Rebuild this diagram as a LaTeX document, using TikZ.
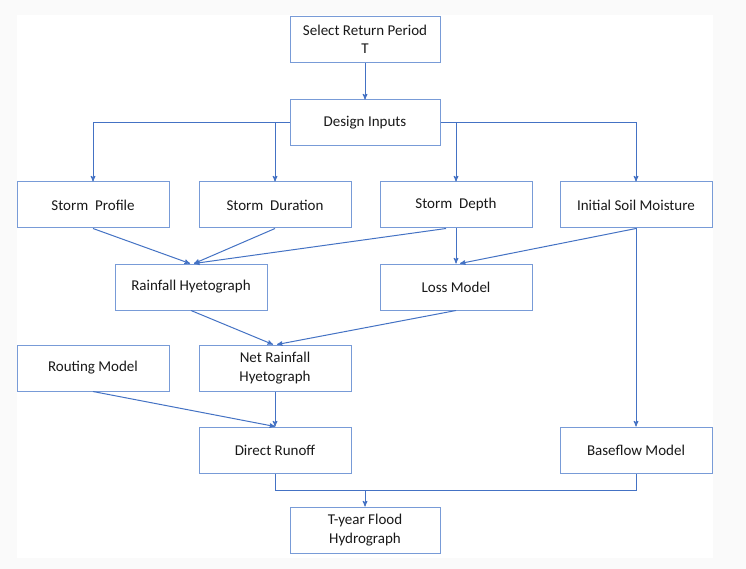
\documentclass[tikz,border=0pt]{standalone}
\usepackage{fontspec}
\setmainfont{Carlito}
\usetikzlibrary{arrows}
\definecolor{boxblue}{RGB}{120,155,215}
\definecolor{linkblue}{RGB}{68,114,196}
\definecolor{pagegray}{RGB}{250,250,250}

\begin{document}
\begin{tikzpicture}[x=1pt,y=-1pt,->,>=stealth',
                    font=\fontsize{15}{18.5}\selectfont]
  \tikzstyle{block}=[draw=boxblue,line width=1pt,fill=white,text=black!90,
                     minimum width=152pt,minimum height=46pt,inner sep=0pt,
                     align=center]
  \tikzstyle{link}=[draw=linkblue,line width=1pt]

  % page background
  \fill[pagegray] (0,0) rectangle (746,569);
  \fill[white] (17,15) rectangle (713,558);
  \useasboundingbox (0,0) rectangle (746,569);

  \node[block,minimum width=150pt] (T)   at (365,39.5) {Select Return Period\\T};
  \node[block,minimum width=150pt] (DI)  at (365,123)  {Design Inputs};
  \node[block] (SP)  at (93,205)   {Storm\ \ Profile};
  \node[block] (SDu) at (275,205)  {Storm\ \ Duration};
  \node[block] (SDe) at (456,205)  {Storm\ \ Depth};
  \node[block] (ISM) at (636,205)  {Initial Soil Moisture};
  \node[block] (RH)  at (191,287)  {Rainfall Hyetograph};
  \node[block] (LM)  at (456,287)  {Loss Model};
  \node[block] (RM)  at (93,368)   {Routing Model};
  \node[block] (NRH) at (275,368)  {Net Rainfall\\Hyetograph};
  \node[block] (DR)  at (275,450)  {Direct Runoff};
  \node[block] (BM)  at (636,450)  {Baseflow Model};
  \node[block,minimum width=150pt] (TF)  at (365,530)  {T-year Flood\\Hydrograph};

  \coordinate (joinR) at (636,490);
  \coordinate (joinM) at (365,490);

  \draw[link] (T)--(DI);
  \draw[link] (DI.west) -| (SP.north);
  \draw[link] (DI.west -| SDu.north) -- (SDu.north);
  \draw[link] (DI.east) -| (ISM.north);
  \draw[link] (DI.east -| SDe.north) -- (SDe.north);
  \draw[link] (SP.south) -- ([xshift=-1pt]RH.north);
  \draw[link] (SDu.south) -- ([xshift=3pt]RH.north);
  \draw[link] ([xshift=-10pt]SDe.south) -- ([xshift=3pt]RH.north);
  \draw[link] (SDe.south) -- (LM.north);
  \draw[link] (ISM.south) -- ([xshift=4pt]LM.north);
  \draw[link] (ISM.south) -- (BM.north);
  \draw[link] (RH.south) -- ([xshift=-2pt]NRH.north);
  \draw[link] (LM.south) -- ([xshift=2pt]NRH.north);
  \draw[link] (RM.south) -- (DR.north);
  \draw[link] (NRH.south) -- (DR.north);
  \draw[link,-] (DR.south) |- (joinR) -- (BM.south);
  \draw[link] (joinM) -- (TF.north);
\end{tikzpicture}
\end{document}
